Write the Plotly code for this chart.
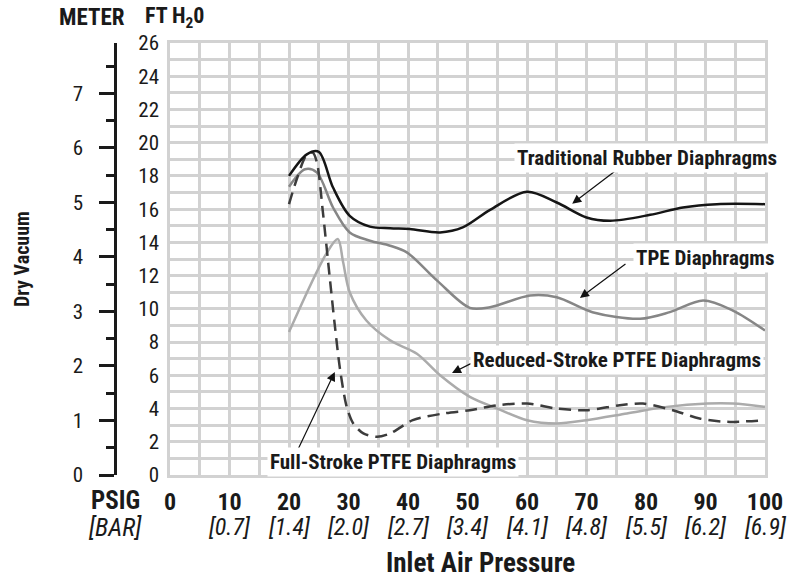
import plotly.graph_objects as go

# Inlet air pressure (psig) and dry vacuum (ft H2O) readings for each diaphragm type
rubber_psi = [20, 23, 25, 27.4, 30.2, 33.6, 37, 40.3, 45.4, 49.2, 53.8, 60, 65, 70, 74, 80.7, 86.2, 91.9, 100]
rubber_ft = [18.0, 19.3, 19.45, 17.3, 15.6, 14.95, 14.85, 14.8, 14.6, 14.9, 15.96, 17.05, 16.4, 15.5, 15.3, 15.66, 16.1, 16.3, 16.3]

tpe_psi = [20, 22.7, 24.7, 27.4, 30.2, 33.6, 37, 39.8, 44.9, 50.4, 53.8, 60.5, 65, 71, 79, 84, 89.6, 94.6, 100]
tpe_ft = [17.35, 18.4, 18.2, 16.1, 14.6, 14.1, 13.8, 13.4, 11.7, 10.06, 10.1, 10.8, 10.7, 9.8, 9.4, 9.8, 10.5, 9.9, 8.7]

reduced_psi = [20, 26.4, 28.2, 29.1, 30.2, 33, 37, 41.5, 45.4, 50.4, 55, 60, 65, 70, 76.8, 83.5, 90.3, 94.6, 100]
reduced_ft = [8.6, 13.4, 14.2, 12.8, 11.0, 9.3, 8.1, 7.3, 6.0, 4.7, 4.0, 3.3, 3.1, 3.3, 3.7, 4.1, 4.3, 4.3, 4.1]

full_psi = [20, 21.3, 23, 24, 24.7, 25.7, 26.9, 27.7, 28.6, 29.7, 30.8, 32.5, 34.8, 37, 40.8, 45.9, 50.4,
            55, 60, 65, 70, 75.6, 79.5, 84.5, 89, 93.6, 100]
full_ft = [16.3, 17.8, 19.3, 19.4, 18.8, 15.8, 11.7, 9.0, 6.3, 4.1, 3.1, 2.5, 2.3, 2.5, 3.3, 3.7, 3.9,
           4.2, 4.3, 4.0, 3.9, 4.2, 4.3, 3.9, 3.4, 3.2, 3.3]

# Axis labelling
psi_ticks = [0, 10, 20, 30, 40, 50, 60, 70, 80, 90, 100]
bar_labels = ["", "[0.7]", "[1.4]", "[2.0]", "[2.7]", "[3.4]", "[4.1]", "[4.8]", "[5.5]", "[6.2]", "[6.9]"]
ft_ticks = list(range(0, 27, 2))
FT_PER_M = 3.28084

# Callout labels: (text, text x, text y, arrow tail x, tail y, head x, head y)
callouts = [
    ("Traditional Rubber Diaphragms", 80.2, 19.1, 75.3, 18.43, 67.6, 16.33),
    ("TPE Diaphragms", 89.9, 13.07, 76.8, 12.77, 68.9, 10.66),
    ("Reduced-Stroke PTFE Diaphragms", 75.1, 6.93, 50.8, 6.75, 47.4, 6.14),
    ("Full-Stroke PTFE Diaphragms", 37.5, 0.78, 21.3, 1.39, 27.7, 6.2),
]

FONT = "Liberation Sans Narrow, Roboto Condensed, DejaVu Sans Condensed, Arial Narrow, sans-serif"
INK = "#1a1a1a"
GRID = "#d2d2d2"

# Plot-area geometry in pixels
ML, PLOT_LEFT, PLOT_RIGHT = 60, 170, 765
span = PLOT_RIGHT - ML


def px_to_paper(px):
    return (px - ML) / span


fig = go.Figure()

fig.add_trace(go.Scatter(x=reduced_psi, y=reduced_ft, mode="lines",
                         line=dict(color="#ababab", width=2.5, shape="spline", smoothing=0.9),
                         hoverinfo="skip", showlegend=False))
fig.add_trace(go.Scatter(x=tpe_psi, y=tpe_ft, mode="lines",
                         line=dict(color="#868686", width=2.5, shape="spline", smoothing=0.9),
                         hoverinfo="skip", showlegend=False))
fig.add_trace(go.Scatter(x=full_psi, y=full_ft, mode="lines",
                         line=dict(color="#3c3c3c", width=2.5, shape="spline", smoothing=0.8,
                                   dash="12px,7px"),
                         hoverinfo="skip", showlegend=False))
fig.add_trace(go.Scatter(x=rubber_psi, y=rubber_ft, mode="lines",
                         line=dict(color="#151515", width=2.5, shape="spline", smoothing=0.9),
                         hoverinfo="skip", showlegend=False))
# Metre scale carrier
fig.add_trace(go.Scatter(x=[None], y=[None], yaxis="y2", hoverinfo="skip", showlegend=False))

annotations = []
for text, tx, ty, ax_, ay_, hx, hy in callouts:
    annotations.append(dict(x=hx, y=hy, ax=ax_, ay=ay_, xref="x", yref="y", axref="x", ayref="y",
                            text="", showarrow=True, arrowhead=2, arrowsize=1.5, arrowwidth=1.2,
                            arrowcolor="#111", standoff=0, startstandoff=0))
    annotations.append(dict(x=tx, y=ty, xref="x", yref="y", text="<b>%s</b>" % text, showarrow=False,
                            xanchor="center", yanchor="middle", bgcolor="white", borderpad=2,
                            font=dict(family=FONT, size=21, color=INK)))

# Bar equivalents beneath the psig numbers
for p, b in zip(psi_ticks, bar_labels):
    if b:
        annotations.append(dict(x=p, y=-0.12, xref="x", yref="paper", text="<i>%s</i>" % b,
                                showarrow=False, xanchor="center", yanchor="middle",
                                font=dict(family=FONT, size=24, color=INK)))


def label(px, y, text, size, angle=0):
    return dict(x=px_to_paper(px), y=y, xref="paper", yref="paper", text=text, showarrow=False,
                xanchor="center", yanchor="middle", textangle=angle,
                font=dict(family=FONT, size=size, color=INK))


annotations += [
    label(115, -0.06, "<b>PSIG</b>", 25),
    label(115, -0.122, "<i>[BAR]</i>", 25),
    label(480, -0.203, "<b>Inlet Air Pressure</b>", 27),
    label(22, 0.5, "<b>Dry Vacuum</b>", 20, -90),
    label(92, 1.058, "<b>METER</b>", 23),
    label(174, 1.058, "<b>FT H<sub>2</sub>0</b>", 22),
]

fig.update_layout(
    width=793, height=578,
    margin=dict(l=ML, r=793 - PLOT_RIGHT, t=43, b=103, autoexpand=False),
    paper_bgcolor="white", plot_bgcolor="white",
    font=dict(family=FONT, color=INK),
    xaxis=dict(domain=[px_to_paper(PLOT_LEFT), 1], range=[0, 100], tickvals=psi_ticks,
               ticktext=["<b>%d</b>" % v for v in psi_ticks],
               tickfont=dict(family=FONT, size=24, color=INK),
               ticks="", ticklabelstandoff=3,
               showgrid=True, gridcolor=GRID, gridwidth=2.5,
               minor=dict(dtick=5, showgrid=True, gridcolor=GRID, gridwidth=2.5),
               showline=True, linecolor=GRID, linewidth=2.5, mirror=True, zeroline=False,
               fixedrange=True),
    yaxis=dict(range=[0, 26], tickvals=ft_ticks,
               tickfont=dict(family=FONT, size=21, color=INK),
               ticks="", ticklabelstandoff=4,
               showgrid=True, gridcolor=GRID, gridwidth=2.5,
               minor=dict(dtick=1, showgrid=True, gridcolor=GRID, gridwidth=2.5),
               showline=True, linecolor=GRID, linewidth=2.5, mirror=True, zeroline=False,
               fixedrange=True),
    yaxis2=dict(range=[0, 26 / FT_PER_M], overlaying="y", anchor="free", position=px_to_paper(115),
                side="left", dtick=1, tick0=0,
                tickfont=dict(family=FONT, size=21, color=INK),
                ticks="outside", ticklen=15, tickwidth=2.5, tickcolor=INK,
                ticklabelstandoff=12,
                minor=dict(dtick=0.5, ticks="outside", ticklen=8, tickwidth=2.5, tickcolor=INK),
                showline=True, linecolor=INK, linewidth=2.5,
                showgrid=False, zeroline=False, fixedrange=True),
    annotations=annotations,
)

fig.write_html("out.html")
